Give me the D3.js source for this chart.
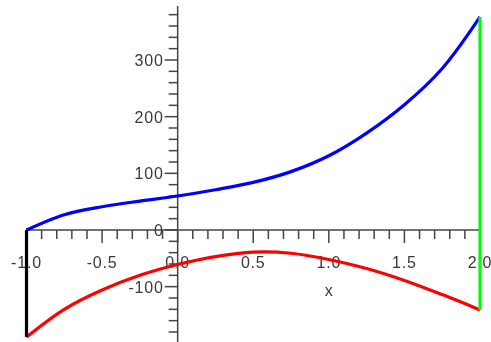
<!DOCTYPE html>
<html>
<head>
<meta charset="utf-8">
<script src="https://cdn.jsdelivr.net/npm/d3@7"></script>
<style>
    body { margin: 0; background: #fff; }
    svg { display: block; filter: blur(0.35px); }
    text { font-family: "Liberation Sans", Arial, sans-serif; fill: #3a3a3a; }
</style>
</head>
<body>
<svg id="chart" width="491" height="342"></svg>
<script>
    var xs = [-1, -0.75, -0.5, -0.25, 0, 0.25, 0.5, 0.75, 1, 1.25, 1.5, 1.75, 2]
    var upper = [0, 27, 41, 51, 60, 71, 84, 103, 131, 171, 221, 285, 376]
    var lower = [-189, -140, -106, -80, -61, -47, -39, -41, -52, -68, -89, -114, -141]

    var xTicks = [-1, -0.5, 0, 0.5, 1, 1.5, 2]
    var xTickLabels = ['-1.0', '-0.5', '0.0', '0.5', '1.0', '1.5', '2.0']
    var yTicks = [-100, 0, 100, 200, 300]
    var yTickLabels = ['-100', '0', '100', '200', '300']
    var xTitle = 'x'

    var svg = d3.select('#chart')

    var x = d3.scaleLinear().domain([-1, 2]).range([26.5, 480])
    var y = d3.scaleLinear().domain([0, 300]).range([230, 60])

    var axisColor = '#444'

    // x axis: line with ticks hanging down
    var xMinor = d3.range(-10, 21).map(function(d) { return d / 10 })
    var gx = svg.append('g').attr('transform', 'translate(0,' + y(0) + ')')
    gx.append('line')
        .attr('x1', x(-1)).attr('x2', x(2))
        .attr('stroke', axisColor).attr('stroke-width', 1.5)
    gx.selectAll('.minor').data(xMinor).enter().append('line')
        .attr('x1', function(d) { return x(d) })
        .attr('x2', function(d) { return x(d) })
        .attr('y1', 0)
        .attr('y2', function(d) { return Math.abs(d * 2 - Math.round(d * 2)) < 1e-6 ? 13 : 9 })
        .attr('stroke', axisColor).attr('stroke-width', 1.5)
    gx.selectAll('.lab').data(xTicks).enter().append('text')
        .attr('x', function(d) { return x(d) })
        .attr('y', 38)
        .attr('text-anchor', 'middle')
        .style('font-size', '16px')
        .style('letter-spacing', '0.8px')
        .text(function(d, i) { return xTickLabels[i] })

    // y axis at x = 0, ticks pointing left
    var yMinor = d3.range(-9, 20).map(function(d) { return d * 20 })
    var gy = svg.append('g').attr('transform', 'translate(' + x(0) + ',0)')
    gy.append('line')
        .attr('y1', 6).attr('y2', 342)
        .attr('stroke', axisColor).attr('stroke-width', 1.5)
    gy.selectAll('.minor').data(yMinor).enter().append('line')
        .attr('y1', function(d) { return y(d) })
        .attr('y2', function(d) { return y(d) })
        .attr('x1', function(d) { return d % 100 === 0 ? -13 : -9 })
        .attr('x2', 0)
        .attr('stroke', axisColor).attr('stroke-width', 1.5)
    gy.selectAll('.lab').data(yTicks).enter().append('text')
        .attr('x', -14)
        .attr('y', function(d) { return y(d) + 6 })
        .attr('text-anchor', 'end')
        .style('font-size', '16px')
        .style('letter-spacing', '0.8px')
        .text(function(d, i) { return yTickLabels[i] })

    svg.append('text')
        .attr('x', x(1))
        .attr('y', y(-117))
        .attr('text-anchor', 'middle')
        .style('font-size', '16px')
        .text(xTitle)

    var line = d3.line()
        .x(function(d) { return x(d[0]) })
        .y(function(d) { return y(d[1]) })
        .curve(d3.curveCatmullRom)

    svg.append('path')
        .datum(xs.map(function(d, i) { return [d, upper[i]] }))
        .attr('d', line)
        .attr('fill', 'none').attr('stroke', '#0000ff').attr('stroke-width', 3.2)

    svg.append('path')
        .datum(xs.map(function(d, i) { return [d, lower[i]] }))
        .attr('d', line)
        .attr('fill', 'none').attr('stroke', '#ff0000').attr('stroke-width', 3.2)

    // closing edges at both ends
    var last = xs.length - 1
    svg.append('line')
        .attr('x1', x(xs[0])).attr('x2', x(xs[0]))
        .attr('y1', y(upper[0])).attr('y2', y(lower[0]))
        .attr('stroke', '#000').attr('stroke-width', 3.2)
    svg.append('line')
        .attr('x1', x(xs[last])).attr('x2', x(xs[last]))
        .attr('y1', y(upper[last])).attr('y2', y(lower[last]))
        .attr('stroke', '#00ff00').attr('stroke-width', 3.2)
</script>
</body>
</html>
